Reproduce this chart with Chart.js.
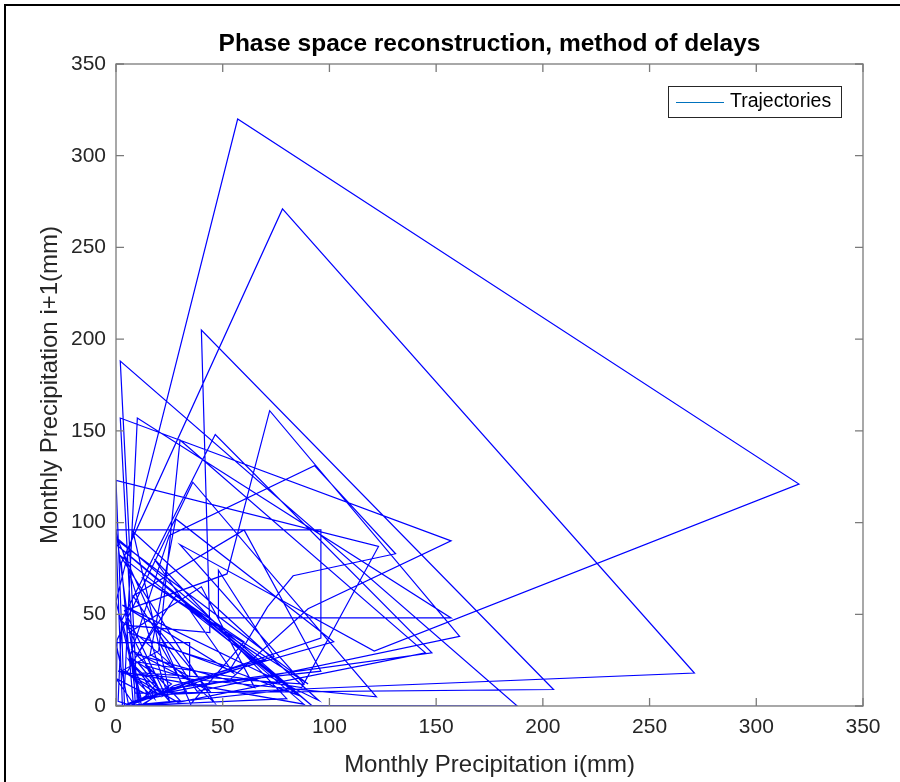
<!DOCTYPE html>
<html>
<head>
<meta charset="utf-8">
<script src="https://cdn.jsdelivr.net/npm/chart.js@4.4.1/dist/chart.umd.min.js"></script>
<style>
  html, body { margin: 0; padding: 0; background: #fff; overflow: hidden; }
  #wrap { position: relative; width: 900px; height: 782px; }
  #frame { position: absolute; left: 4px; top: 4px; width: 1000px; height: 1000px; border: 2px solid #000; pointer-events: none; }
  canvas { position: absolute; left: 0; top: 0; }
</style>
</head>
<body>
<div id="wrap">
  <canvas id="c" width="900" height="782"></canvas>
  <div id="frame"></div>
</div>
<script>
// Monthly precipitation series (mm); the phase space uses (p[i], p[i+1])
const precipitation = [
  4, 10, 157, 48, 48, 74, 27, 11,
  0, 96, 96, 37, 14, 22, 5,
  44, 40, 205, 9, 7, 26, 12,
  0, 57, 320, 121, 30, 88, 12, 18, 4,
  20, 30, 145, 29, 2, 20, 6,
  25, 93, 131, 83, 71, 54, 21, 33, 8,
  2.5, 78, 271, 18, 6, 0,
  34.5, 34.5, 16, 28, 102, 35, 13, 4,
  0, 123, 87, 10, 24, 4,
  52, 72, 161, 38, 8, 60, 96, 19, 9,
  2, 157, 90, 53, 14, 5, 1,
  2.6, 46.5, 148, 29, 10, 2, 188, 0, 0.5,
  36, 122, 5, 18, 44, 8, 30, 3,
  0, 92, 0, 88, 1, 19, 12, 3, 46, 2, 82, 9, 0, 15, 6, 25, 3,
  85, 6, 40, 65, 10, 28, 60, 35, 1, 90, 12, 70, 25, 8, 95, 3, 55, 18, 80, 4, 0
];
const seriesLabel = 'Trajectories';
const titleText = 'Phase space reconstruction, method of delays';
const xLabel = 'Monthly Precipitation i(mm)';
const yLabel = 'Monthly Precipitation i+1(mm)';
const axisMin = 0, axisMax = 350, axisStep = 50;

const points = [];
for (let i = 0; i < precipitation.length - 1; i++) {
  points.push({ x: precipitation[i], y: precipitation[i + 1] });
}

const FONT = "'Liberation Sans', Arial, Helvetica, sans-serif";
Chart.defaults.font.family = FONT;

const boxAndTicks = {
  id: 'boxAndTicks',
  afterDatasetsDraw(chart) {
    const { ctx, chartArea: a, scales: { x, y } } = chart;
    ctx.save();
    ctx.strokeStyle = '#7a7a7a';
    ctx.lineWidth = 1.3;
    ctx.strokeRect(a.left, a.top, a.right - a.left, a.bottom - a.top);
    const tl = 8;
    ctx.beginPath();
    x.ticks.forEach(t => {
      const px = x.getPixelForValue(t.value);
      ctx.moveTo(px, a.bottom); ctx.lineTo(px, a.bottom - tl);
      ctx.moveTo(px, a.top); ctx.lineTo(px, a.top + tl);
    });
    y.ticks.forEach(t => {
      const py = y.getPixelForValue(t.value);
      ctx.moveTo(a.left, py); ctx.lineTo(a.left + tl, py);
      ctx.moveTo(a.right, py); ctx.lineTo(a.right - tl, py);
    });
    ctx.stroke();
    ctx.restore();
  }
};

const boxedLegend = {
  id: 'boxedLegend',
  afterDraw(chart) {
    const { ctx, chartArea: a } = chart;
    const ds = chart.data.datasets[0];
    const right = a.right - 21, top = a.top + 22;
    const w = 174, h = 32;
    const left = right - w;
    ctx.save();
    ctx.fillStyle = '#fff';
    ctx.fillRect(left, top, w, h);
    ctx.strokeStyle = '#262626';
    ctx.lineWidth = 1;
    ctx.strokeRect(left + 0.5, top + 0.5, w - 1, h - 1);
    const cy = top + h / 2;
    ctx.strokeStyle = '#0072BD';
    ctx.lineWidth = 1;
    ctx.beginPath();
    ctx.moveTo(left + 8, cy + 0.5); ctx.lineTo(left + 56, cy + 0.5);
    ctx.stroke();
    ctx.fillStyle = '#000';
    ctx.font = '19.5px ' + FONT;
    ctx.textBaseline = 'middle';
    ctx.textAlign = 'left';
    ctx.fillText(ds.label, left + 62, cy);
    ctx.restore();
  }
};

new Chart(document.getElementById('c'), {
  type: 'scatter',
  data: {
    datasets: [{
      label: seriesLabel,
      data: points,
      showLine: true,
      borderColor: '#0000ff',
      borderWidth: 1.2,
      pointRadius: 0,
      pointHoverRadius: 0,
      fill: false,
      tension: 0
    }]
  },
  options: {
    responsive: false,
    animation: false,
    devicePixelRatio: 1,
    layout: { padding: { left: 0, right: 37, top: 0, bottom: 0 } },
    plugins: {
      legend: { display: false },
      tooltip: { enabled: false },
      title: {
        display: true,
        text: titleText,
        fullSize: false,
        color: '#000',
        font: { size: 24.5, weight: 'bold', family: FONT },
        padding: { top: 30, bottom: 4.6 }
      }
    },
    scales: {
      x: {
        type: 'linear',
        min: axisMin, max: axisMax,
        ticks: { stepSize: axisStep, color: '#262626', font: { size: 21 }, padding: 9, maxRotation: 0 },
        grid: { display: false, drawTicks: false },
        border: { display: false },
        title: { display: true, text: xLabel, color: '#262626', font: { size: 24 }, padding: { top: 0, bottom: 2.6 } },
        afterFit(s) { s.height = 76; }
      },
      y: {
        type: 'linear',
        min: axisMin, max: axisMax,
        ticks: { stepSize: axisStep, color: '#262626', font: { size: 21 }, padding: 10 },
        grid: { display: false, drawTicks: false },
        border: { display: false },
        title: { display: true, text: yLabel, color: '#262626', font: { size: 24 }, padding: { top: 36, bottom: 0 } },
        afterFit(s) { s.width = 116; }
      }
    }
  },
  plugins: [boxAndTicks, boxedLegend]
});
</script>
</body>
</html>
